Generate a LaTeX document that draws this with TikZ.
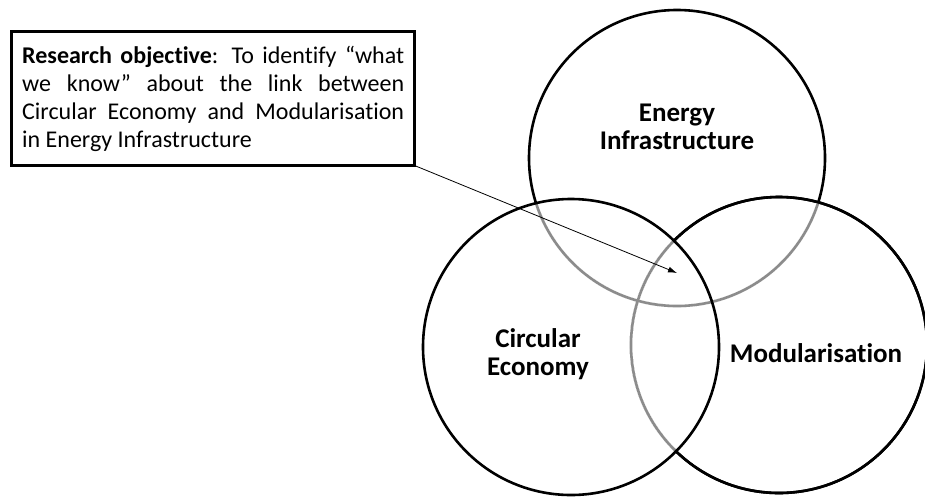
\documentclass[tikz,border=0pt]{standalone}
\usepackage{fontspec}
\setmainfont{Carlito}[Ligatures={TeX,NoCommon}]
\usetikzlibrary{arrows.meta}
\begin{document}
\begin{tikzpicture}[x=1pt,y=-1pt,
  ring/.style={circle, draw=black, line width=2.6pt, minimum size=296pt, inner sep=0pt, outer sep=0pt},
  eraser/.style={draw=white, line width=3.6pt},
  fadearc/.style={draw=black!45, line width=2.6pt},
  lbl/.style={font=\bfseries\fontsize{27}{28}\selectfont, align=center, inner sep=0pt},
  objbox/.style={draw=black, line width=2.8pt, fill=white, inner sep=0pt, outer sep=0pt,
    minimum width=403pt, minimum height=134pt},
  objtext/.style={text width=382pt, inner sep=0pt, align=justify,
    font=\fontsize{24}{27.8}\selectfont},
  pointer/.style={-{Latex[length=9pt,width=6pt]}, line width=0.8pt, draw=black}
]
\useasboundingbox (0,0) rectangle (925,496);
% circles
\node[ring] (ei) at (677,158) {};
\node[ring] (mod) at (779,345) {};
% part of the top circle inside the right circle is grey
\begin{scope}
  \clip (mod.center) circle[radius=148pt];
  \draw[eraser] (ei.center) circle[radius=148pt];
  \draw[fadearc] (ei.center) circle[radius=148pt];
\end{scope}
\draw[black, line width=2.6pt] (mod.center) circle[radius=148pt];
% parts inside the left circle are grey
\begin{scope}
  \clip (571,347) circle[radius=148pt];
  \draw[eraser] (ei.center) circle[radius=148pt];
  \draw[eraser] (mod.center) circle[radius=148pt];
  \draw[fadearc] (ei.center) circle[radius=148pt];
  \draw[fadearc] (mod.center) circle[radius=148pt];
\end{scope}
\node[ring] (ce) at (571,347) {};
% labels
\node[lbl] (eil) at (677,127) {Energy\\Infrastructure};
\node[lbl] (cel) at (538,354) {Circular\\Economy};
\node[lbl] (modl) at (816,353.5) {Modularisation};
% objective box
\node[objbox] (obj) at (213,98.5) {};
\node[objtext, anchor=west] (objt) at (22,99) {\hyphenpenalty=10000\exhyphenpenalty=10000\emergencystretch=20pt\relax%
\textbf{Research objective}: To identify “what\linebreak we know” about the link between\linebreak Circular Economy and Modularisation\linebreak in Energy Infrastructure};
\coordinate (tip) at (677,273);
\draw[pointer] (obj.south east) -- (tip);
\end{tikzpicture}
\end{document}
